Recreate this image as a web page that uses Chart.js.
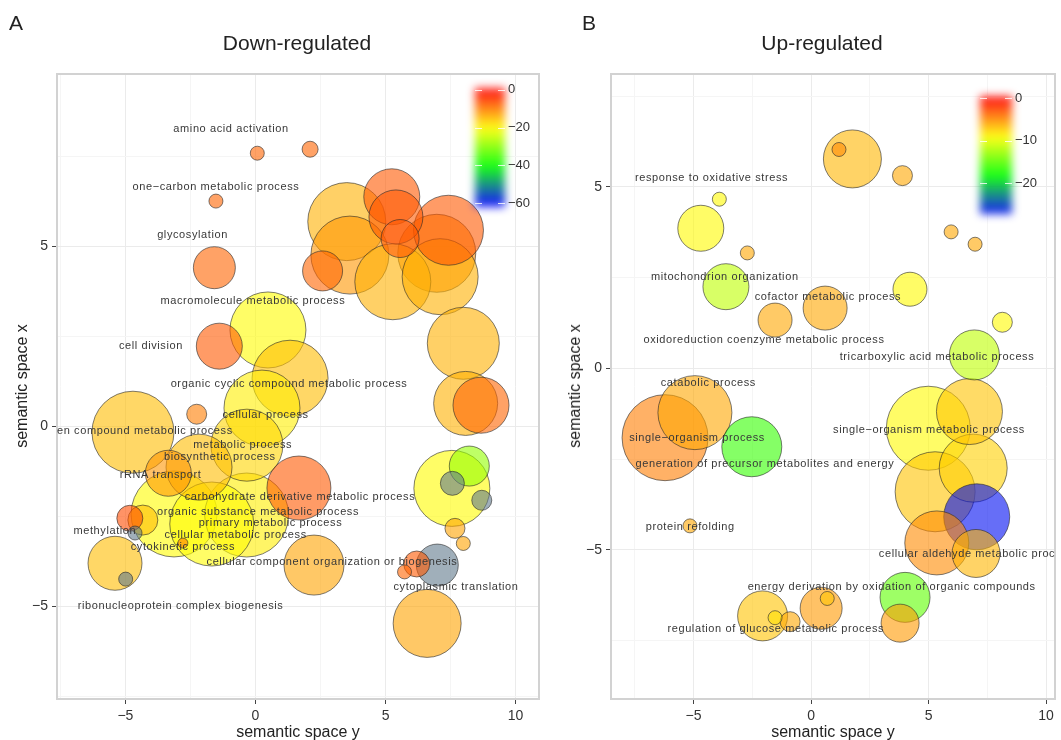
<!DOCTYPE html>
<html>
<head>
<meta charset="utf-8">
<script src="https://cdn.jsdelivr.net/npm/chart.js@4.4.0/dist/chart.umd.min.js"></script>
<style>
    body { margin: 0; background: #fff; width: 1061px; height: 740px; position: relative; overflow: hidden;
           font-family: "Liberation Sans", Arial, sans-serif; color: #222; }
    .panel { position: absolute; top: 0; height: 740px; }
    .txt { position: absolute; white-space: nowrap; line-height: 1; }
    .c { transform: translate(-50%, -50%); }
    .rot { transform: translate(-50%, -50%) rotate(-90deg); }
</style>
</head>
<body>
<div class="panel" style="left:0;width:550px"><canvas id="down-chart"></canvas></div>
<div class="panel" style="left:550px;width:511px"><canvas id="up-chart"></canvas></div>

<div class="txt" style="left:9px;top:12px;font-size:21px">A</div>
<div class="txt" style="left:582px;top:12px;font-size:21px">B</div>
<div class="txt c" style="left:297px;top:42px;font-size:21px">Down-regulated</div>
<div class="txt c" style="left:822px;top:42px;font-size:21px">Up-regulated</div>
<div class="txt c" style="left:298px;top:732px;font-size:16px">semantic space y</div>
<div class="txt c" style="left:833px;top:732px;font-size:16px">semantic space y</div>
<div class="txt rot" style="left:22px;top:386px;font-size:16px">semantic space x</div>
<div class="txt rot" style="left:575px;top:386px;font-size:16px">semantic space x</div>

<script>
// 坐标轴刻度（主刻度 / 次网格线）
const majorTicks = [-5, 0, 5, 10];
const minorTicks = [-7.5, -2.5, 2.5, 7.5];

// A: 下调 GO 术语
const downX = [0.07, -1.52, -1.58, 2.10, 3.51, 5.24, 5.40, 5.56, 7.42, 6.97, 3.63, 2.58, 5.28, 7.10, 7.99, 8.08,
    8.67, 7.55, 8.22, 7.57, 8.70, 7.67, 7.99, 0.48, -1.39, 1.33, 0.25, -2.26, -4.71, -0.33, -2.17, -3.35,
    -3.13, -0.34, -1.68, 1.67, -4.83, -4.33, -4.63, -2.79, -5.40, -4.99, 2.25, 5.73, 6.20, 6.99, 6.60];
const downY = [7.58, 6.25, 4.40, 7.69, 5.68, 6.37, 5.81, 5.21, 5.44, 4.80, 4.75, 4.31, 4.01, 4.15, 2.30, 0.63,
    0.58, -1.73, -1.11, -1.59, -2.06, -2.84, -3.26, 2.67, 2.22, 1.33, 0.50, 0.33, -0.17, -0.53, -1.14, -1.31,
    -2.44, -2.47, -2.72, -1.72, -2.56, -2.61, -2.97, -3.25, -3.81, -4.25, -3.86, -4.05, -3.83, -3.86, -5.48];
const downSize = [7, 7, 21, 8, 39, 28, 27, 19, 35, 39, 39, 20, 38, 38, 36, 32,
    28, 38, 20, 12, 10, 10, 7, 38, 23, 38, 38, 10, 41, 36, 33, 23,
    43, 42, 42, 32, 13, 15, 7, 5, 27, 7, 30, 7, 13, 21, 34];
// log10 p 值；null 表示超出色标范围（灰色）
const downLogP = [-8, -8, -8, -8, -14, -7, -7, -7, -7, -11, -12, -8, -14, -14, -14, -14,
    -8, -20, -29, null, null, -13, -13, -20, -7, -15, -19, -10, -15, -17, -15, -12,
    -20, -19, -20, -7, -6, -15, null, -10, -15, null, -13, -8, -7, null, -13];
const downLabels = ['amino acid activation', 'one\u2212carbon metabolic process', 'glycosylation',
    'macromolecule metabolic process', 'cell division', 'organic cyclic compound metabolic process',
    'cellular process', 'nitrogen compound metabolic process', 'metabolic process', 'biosynthetic process',
    'rRNA transport', 'carbohydrate derivative metabolic process', 'organic substance metabolic process',
    'primary metabolic process', 'cellular metabolic process', 'cytokinetic process', 'methylation',
    'cellular component organization or biogenesis', 'cytoplasmic translation',
    'ribonucleoprotein complex biogenesis'];
const downLabelX = [-0.94, -1.52, -2.42, -0.10, -4.02, 1.29, 0.39, -4.85, -0.49, -1.37, -3.65, 1.71, 0.10,
    0.58, -0.76, -2.79, -5.79, 2.94, 7.71, -2.88];
const downLabelY = [8.25, 6.64, 5.32, 3.47, 2.22, 1.17, 0.31, -0.14, -0.53, -0.87, -1.36, -1.96, -2.38,
    -2.70, -3.03, -3.35, -2.91, -3.77, -4.46, -5.00];
const downLegendTicks = [0, -20, -40, -60];

// B: 上调 GO 术语
const upX = [-3.90, -4.69, -2.71, -3.62, -1.53, 0.60, 1.76, 1.19, 3.89, 5.96, 6.98, 4.21, 8.14, 6.95, 6.74, 4.99,
    6.90, 5.28, 7.05, 5.35, 7.02, -4.94, -6.21, -2.52, -5.15, 4.00, 3.79, -2.06, -1.53, -0.89, 0.43, 0.69];
const upY = [4.66, 3.86, 3.18, 2.25, 1.33, 1.66, 5.77, 6.03, 5.31, 3.76, 3.42, 2.18, 1.27, 0.37, -1.19, -1.65,
    -2.75, -3.40, -4.09, -4.81, -5.10, -1.22, -1.91, -2.16, -4.34, -6.31, -7.02, -6.82, -6.87, -6.98, -6.61, -6.34];
const upSize = [7, 23, 7, 23, 17, 22, 29, 7, 10, 7, 7, 17, 10, 25, 33, 42,
    34, 40, 33, 32, 24, 37, 43, 30, 7, 25, 19, 25, 7, 10, 21, 7];
const upLogP = [-9, -9, -6, -11.5, -6, -6, -6.5, -5, -6, -6, -6, -9, -9, -11.5, -7, -9,
    -7.5, -7, -27, -5, -6.5, -6, -4.5, -16.5, -6, -15, -5.5, -7, -8, -6, -5.5, -7];
const upLabels = ['response to oxidative stress', 'mitochondrion organization', 'cofactor metabolic process',
    'oxidoreduction coenzyme metabolic process', 'tricarboxylic acid metabolic process', 'catabolic process',
    'single\u2212organism process', 'single\u2212organism metabolic process',
    'generation of precursor metabolites and energy', 'protein refolding', 'cellular aldehyde metabolic process',
    'energy derivation by oxidation of organic compounds', 'regulation of glucose metabolic process'];
const upLabelX = [-4.23, -3.67, 0.72, -2.00, 5.36, -4.37, -4.85, 5.02, -1.96, -5.14, 7.04, 3.43, -1.50];
const upLabelY = [5.25, 2.52, 1.97, 0.78, 0.30, -0.40, -1.93, -1.70, -2.64, -4.38, -5.12, -6.02, -7.19];
const upLegendTicks = [0, -10, -20];

// 色标：blue -> green -> yellow -> red
const colourStops = [[0, 0, 255], [0, 255, 0], [255, 255, 0], [255, 0, 0]];

function scaleColour(v, min, alpha) {
    if (v === null) return `rgba(96,122,140,${alpha})`;
    let t = Math.max(0, Math.min(1, (v - min) / (0 - min)));
    const p = t * 3;
    const i = Math.min(2, Math.floor(p));
    const f = p - i;
    const a = colourStops[i], b = colourStops[i + 1];
    const c = a.map((ch, k) => Math.round(ch + (b[k] - ch) * f));
    return `rgba(${c[0]},${c[1]},${c[2]},${alpha})`;
}

const minus = v => (v < 0 ? '\u2212' + Math.abs(v) : String(v));

function axisOptions(range, horizontal, size) {
    return {
        type: 'linear',
        min: range[0],
        max: range[1],
        afterBuildTicks: s => {
            s.ticks = majorTicks.concat(minorTicks)
                .filter(v => v >= range[0] && v <= range[1])
                .sort((a, b) => a - b)
                .map(v => ({ value: v }));
        },
        afterFit: s => {
            if (horizontal) s.height = 41; else s.width = size;
        },
        border: { display: false },
        grid: {
            color: c => (c.tick && majorTicks.includes(c.tick.value) ? '#ebebeb' : '#f5f5f5'),
            lineWidth: 1,
            tickLength: 5,
            tickColor: c => (c.tick && majorTicks.includes(c.tick.value) ? '#444' : 'rgba(0,0,0,0)')
        },
        ticks: {
            autoSkip: false,
            maxRotation: 0,
            padding: 4,
            color: '#333',
            font: { family: 'Liberation Sans', size: 14 },
            callback: v => (majorTicks.includes(v) ? minus(v) : '')
        }
    };
}

function buildPanel(canvasId, cfg) {
    const points = cfg.x.map((x, i) => ({ x, y: cfg.y[i], r: cfg.r[i], v: cfg.v[i] }))
        .sort((a, b) => b.r - a.r);

    // 面板边框
    const frame = {
        id: 'frame',
        afterDatasetsDraw(chart) {
            const { ctx, chartArea: a } = chart;
            ctx.save();
            ctx.strokeStyle = '#d2d2d2';
            ctx.lineWidth = 2;
            ctx.strokeRect(a.left, a.top, a.right - a.left, a.bottom - a.top);
            ctx.restore();
        }
    };

    // 术语标签
    const termText = {
        id: 'termText',
        afterDatasetsDraw(chart) {
            const { ctx, chartArea: a, scales } = chart;
            ctx.save();
            ctx.beginPath();
            ctx.rect(a.left, a.top, a.right - a.left, a.bottom - a.top);
            ctx.clip();
            ctx.fillStyle = '#383838';
            ctx.font = '11px "Liberation Sans"';
            if ('letterSpacing' in ctx) ctx.letterSpacing = '0.6px';
            ctx.textAlign = 'center';
            ctx.textBaseline = 'middle';
            cfg.labels.forEach((t, i) => {
                ctx.fillText(t, scales.x.getPixelForValue(cfg.labelX[i]), scales.y.getPixelForValue(cfg.labelY[i]));
            });
            ctx.restore();
        }
    };

    // 颜色图例
    const colourbar = {
        id: 'colourbar',
        afterDatasetsDraw(chart) {
            const ctx = chart.ctx, b = cfg.bar;
            const yOf = v => b.top + (b.vTop - v) / (b.vTop - b.vBottom) * (b.bottom - b.top);
            const g = ctx.createLinearGradient(0, b.top, 0, b.bottom);
            for (let k = 0; k <= 40; k++) {
                const v = b.vTop + (b.vBottom - b.vTop) * k / 40;
                g.addColorStop(k / 40, scaleColour(v, cfg.min, 0.9));
            }
            ctx.save();
            ctx.filter = 'blur(4px)';
            ctx.fillStyle = g;
            ctx.fillRect(b.left, b.top, b.right - b.left, b.bottom - b.top);
            ctx.filter = 'none';
            ctx.strokeStyle = 'rgba(255,255,255,0.8)';
            ctx.lineWidth = 1;
            cfg.legendTicks.forEach(v => {
                const y = Math.round(yOf(v)) + 0.5;
                ctx.beginPath();
                ctx.moveTo(b.left, y); ctx.lineTo(b.left + 7, y);
                ctx.moveTo(b.right - 7, y); ctx.lineTo(b.right, y);
                ctx.stroke();
            });
            ctx.fillStyle = '#333';
            ctx.font = '13px "Liberation Sans"';
            ctx.textAlign = 'left';
            ctx.textBaseline = 'middle';
            cfg.legendTicks.forEach(v => ctx.fillText(minus(v), b.textX, yOf(v)));
            ctx.restore();
        }
    };

    return new Chart(document.getElementById(canvasId), {
        type: 'bubble',
        data: {
            datasets: [{
                data: points,
                backgroundColor: points.map(p => scaleColour(p.v, cfg.min, 0.6)),
                borderColor: 'rgba(40,40,40,0.6)',
                borderWidth: 1,
                hoverBorderWidth: 1
            }]
        },
        options: {
            responsive: true,
            maintainAspectRatio: false,
            animation: false,
            events: [],
            layout: { autoPadding: false, padding: { top: 74, right: cfg.padRight, bottom: 0, left: 0 } },
            plugins: { legend: { display: false }, tooltip: { enabled: false } },
            scales: {
                x: axisOptions(cfg.xRange, true),
                y: axisOptions(cfg.yRange, false, cfg.yWidth)
            }
        },
        plugins: [frame, termText, colourbar]
    });
}

buildPanel('down-chart', {
    x: downX, y: downY, r: downSize, v: downLogP, min: -61,
    labels: downLabels, labelX: downLabelX, labelY: downLabelY, legendTicks: downLegendTicks,
    xRange: [-7.63, 10.9], yRange: [-7.58, 9.78], yWidth: 57, padRight: 11,
    bar: { left: 475, right: 505, top: 88, bottom: 207, vTop: 1, vBottom: -62, textX: 508 }
});

buildPanel('up-chart', {
    x: upX, y: upY, r: upSize, v: upLogP, min: -27.5,
    labels: upLabels, labelX: upLabelX, labelY: upLabelY, legendTicks: upLegendTicks,
    xRange: [-8.51, 10.38], yRange: [-9.11, 8.11], yWidth: 61, padRight: 6,
    bar: { left: 430, right: 462, top: 96, bottom: 214, vTop: 0.5, vBottom: -27.3, textX: 465 }
});
</script>
</body>
</html>
